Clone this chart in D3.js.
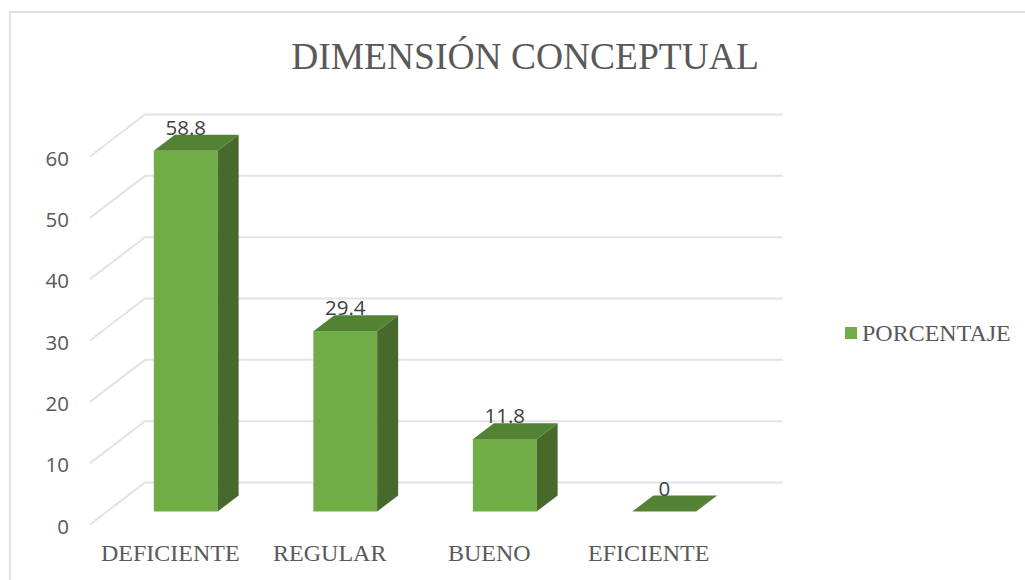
<!DOCTYPE html>
<html>
<head>
<meta charset="utf-8">
<script src="https://cdn.jsdelivr.net/npm/d3@7"></script>
<style>
  html, body { margin: 0; padding: 0; background: #fff; overflow: hidden; }
</style>
</head>
<body>
<div id="chart"></div>
<script>
const categories = ["DEFICIENTE", "REGULAR", "BUENO", "EFICIENTE"];
const values = [58.8, 29.4, 11.8, 0];
const yTicks = [0, 10, 20, 30, 40, 50, 60];
const seriesName = "PORCENTAJE";
const chartTitle = "DIMENSIÓN CONCEPTUAL";

const width = 1025, height = 580;
const serif = "'Liberation Serif', 'Times New Roman', serif";
const sans = "'Open Sans', 'Noto Sans', sans-serif";
const depthX = 21, depthY = 16;   // bar depth
const wallX = 55, wallY = 42;     // floor depth of the gridlines

const svg = d3.select("#chart").append("svg")
  .attr("width", width)
  .attr("height", height);

svg.append("rect").attr("width", width).attr("height", height).attr("fill", "#fff");

// chart frame, runs off the bottom and right of the picture
svg.append("path")
  .attr("d", "M10,580V12H1025")
  .attr("fill", "none")
  .attr("stroke", "#e0e0e0")
  .attr("stroke-width", 2);

const x = d3.scaleBand()
  .domain(categories)
  .range([106, 744])
  .paddingInner(0.6)
  .paddingOuter(0.3);

const y = d3.scaleLinear()
  .domain([0, 60])
  .range([511.5, 143.5]);

svg.append("text")
  .attr("x", 525)
  .attr("y", 69)
  .attr("text-anchor", "middle")
  .attr("font-family", serif)
  .attr("font-size", 37.5)
  .attr("fill", "#595959")
  .text(chartTitle);

// gridlines: front stub plus back wall line
const grid = svg.append("g")
  .attr("fill", "none")
  .attr("stroke", "#e3e3e3")
  .attr("stroke-width", 2);

grid.selectAll("path")
  .data(yTicks)
  .enter().append("path")
  .attr("d", d => {
    const yb = y(d) - depthY - 13;
    return "M" + 90 + "," + (yb + wallY) + "L" + (90 + wallX) + "," + yb + "H783";
  });

// y axis labels
const axis = svg.append("g")
  .attr("transform", "translate(69,15)")
  .call(d3.axisLeft(y).tickValues(yTicks).tickSize(0).tickPadding(0));
axis.select(".domain").remove();
axis.selectAll("text")
  .attr("font-family", sans)
  .attr("font-size", 20.5)
  .attr("fill", "#595959");

// bars
const bars = svg.selectAll(".bar")
  .data(values)
  .enter().append("g")
  .attr("class", "bar")
  .attr("transform", (d, i) => "translate(" + x(categories[i]) + ",0)");

const bw = x.bandwidth();

bars.filter(d => d > 0).append("rect")
  .attr("y", d => y(d))
  .attr("width", bw)
  .attr("height", d => y(0) - y(d))
  .attr("fill", "#70ad47");

bars.filter(d => d > 0).append("path")
  .attr("d", d => "M" + bw + "," + y(d) + "l" + depthX + "," + -depthY
    + "V" + (y(0) - depthY) + "l" + -depthX + "," + depthY + "Z")
  .attr("fill", "#47692b");

bars.append("path")
  .attr("d", d => "M0," + y(d) + "l" + depthX + "," + -depthY
    + "h" + bw + "l" + -depthX + "," + depthY + "Z")
  .attr("fill", "#548235");

bars.append("text")
  .attr("x", bw / 2)
  .attr("y", d => y(d) - depthY)
  .attr("text-anchor", "middle")
  .attr("font-family", sans)
  .attr("font-size", 20.5)
  .attr("fill", "#404040")
  .text(d => d);

// category labels
svg.selectAll(".cat")
  .data(categories)
  .enter().append("text")
  .attr("class", "cat")
  .attr("x", d => x(d) + bw / 2 - 15.5)
  .attr("y", 561)
  .attr("text-anchor", "middle")
  .attr("font-family", serif)
  .attr("font-size", 24)
  .attr("fill", "#595959")
  .text(d => d);

// legend
const legend = svg.append("g").attr("transform", "translate(845,327)");
legend.append("rect").attr("width", 12).attr("height", 12).attr("fill", "#70ad47");
legend.append("text")
  .attr("x", 17)
  .attr("y", 14)
  .attr("font-family", serif)
  .attr("font-size", 24)
  .attr("fill", "#595959")
  .text(seriesName);
</script>
</body>
</html>
